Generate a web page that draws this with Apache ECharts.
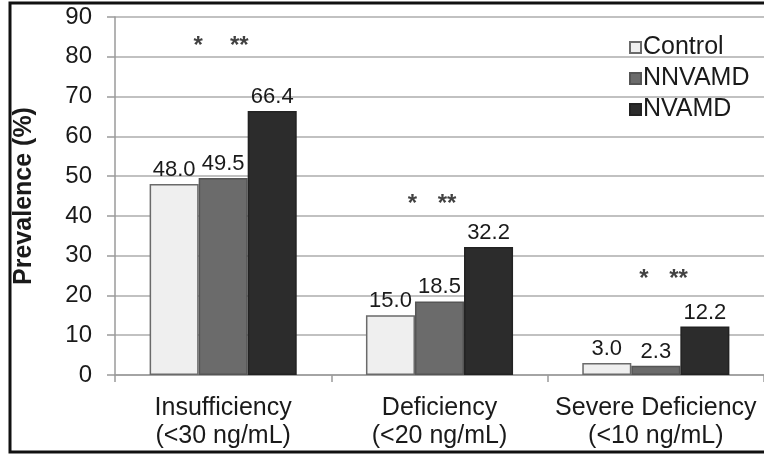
<!DOCTYPE html>
<html>
<head>
<meta charset="utf-8">
<script src="https://cdn.jsdelivr.net/npm/echarts@6/dist/echarts.min.js"></script>
<style>html,body{margin:0;padding:0;background:#fff}#c{width:764px;height:456px}</style>
</head>
<body>
<div id="c"></div>
<script>
var categories = ['Insufficiency\n(<30 ng/mL)', 'Deficiency\n(<20 ng/mL)', 'Severe Deficiency\n(<10 ng/mL)'];
var seriesNames = ['Control', 'NNVAMD', 'NVAMD'];
var control = [48.0, 15.0, 3.0];
var nnvamd = [49.5, 18.5, 2.3];
var nvamd = [66.4, 32.2, 12.2];
var yTicks = [0, 10, 20, 30, 40, 50, 60, 70, 80, 90];
// significance annotations: position in category units, height in %
var starX = [0.38, 0.57, 1.37, 1.53, 2.44, 2.60];
var starY = [84, 84, 44.5, 44.5, 25.6, 25.6];
var starText = ['*', '**', '*', '**', '*', '**'];

var FONT = '"Liberation Sans", Arial, sans-serif';
var TXT = '#1a1a1a';
var fills = ['#efefef', '#6b6b6b', '#2c2c2c'];
var borders = ['#6a6a6a', '#555555', '#222222'];
var values = [control, nnvamd, nvamd];

var chart = echarts.init(document.getElementById('c'), null, {renderer: 'canvas'});
var series = seriesNames.map(function (name, i) {
  return {
    name: name,
    type: 'bar',
    data: values[i],
    barGap: '0%',
    barCategoryGap: '32%',
    itemStyle: {color: fills[i], borderColor: borders[i], borderWidth: 1.5},
    label: {
      show: true, position: 'top', distance: 3,
      formatter: function (p) { return p.value.toFixed(1); },
      fontFamily: FONT, fontSize: 22, color: TXT
    }
  };
});
series.push({
  name: 'stars',
  type: 'scatter',
  xAxisIndex: 1,
  symbolSize: 0,
  data: starX.map(function (x, i) { return [x, starY[i], starText[i]]; }),
  label: {
    show: true, position: 'inside',
    formatter: function (p) { return p.data[2]; },
    fontFamily: FONT, fontSize: 24, fontWeight: 'bold', color: '#111', offset: [1, 6]
  },
  silent: true
});

chart.setOption({
  animation: false,
  textStyle: {fontFamily: FONT},
  graphic: [{
    type: 'rect', z: 100,
    shape: {x: 10, y: 3, width: 780, height: 449},
    style: {fill: 'none', stroke: '#111', lineWidth: 3}
  }],
  grid: {left: 115, top: 17, width: 654, height: 358, containLabel: false},
  legend: {
    data: seriesNames,
    orient: 'vertical',
    left: 624, top: 30,
    itemWidth: 11, itemHeight: 11, itemGap: 6,
    textStyle: {fontFamily: FONT, fontSize: 25, color: TXT, padding: [0, 0, 0, -3]},
    icon: 'rect'
  },
  xAxis: [{
    type: 'category',
    data: categories,
    axisLine: {lineStyle: {color: '#9a9a9a', width: 1.5}},
    axisTick: {show: true, length: 7, lineStyle: {color: '#9a9a9a', width: 1.5}},
    axisLabel: {interval: 0, fontFamily: FONT, fontSize: 25, color: TXT, lineHeight: 28, margin: 19}
  }, {
    type: 'value', min: 0, max: 3, show: false
  }],
  yAxis: {
    type: 'value', min: 0, max: 90, interval: 10,
    name: 'Prevalence (%)',
    nameLocation: 'middle', nameGap: 78,
    nameTextStyle: {fontFamily: FONT, fontSize: 25, fontWeight: 'bold', color: TXT},
    axisLine: {show: true, lineStyle: {color: '#9a9a9a', width: 1.5}},
    axisTick: {show: true, length: 8, lineStyle: {color: '#9a9a9a', width: 1.5}},
    axisLabel: {
      fontFamily: FONT, fontSize: 24, color: TXT, margin: 23,
      formatter: function (v) { return yTicks.indexOf(v) >= 0 ? String(v) : ''; }
    },
    splitLine: {show: true, lineStyle: {color: '#acacac', width: 1.5}}
  },
  series: series
});
</script>
</body>
</html>
